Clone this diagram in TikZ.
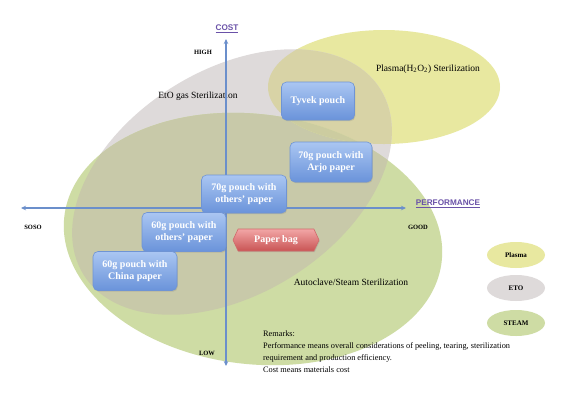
\documentclass[tikz,border=0pt]{standalone}
\usepackage{fontspec}
\setmainfont{Liberation Serif}
\newfontfamily\axisfont{Liberation Sans}
\usetikzlibrary{shapes.symbols,shapes.geometric,shadows,arrows.meta}
\definecolor{cYel}{HTML}{E8E8A0}
\definecolor{cGrey}{HTML}{DEDADA}
\definecolor{cGreen}{HTML}{CEDCA4}
\definecolor{cGG}{HTML}{C8C9A9}
\definecolor{cGY}{HTML}{D8D3A6}
\definecolor{cYG}{HTML}{D6E0A0}
\definecolor{cGGY}{HTML}{CCCCA0}
\definecolor{cAxis}{HTML}{6B8FCB}
\definecolor{cAxisTxt}{HTML}{6A52A8}
\definecolor{cBoxTop}{HTML}{AAC6F2}
\definecolor{cBoxBot}{HTML}{6A93DA}
\definecolor{cBoxLine}{HTML}{6F94D4}
\definecolor{cBagTop}{HTML}{F2A6A6}
\definecolor{cBagBot}{HTML}{C95454}
\definecolor{cBagLine}{HTML}{D06A6A}
\def\GreenPath{(253,239) ellipse [x radius=190pt, y radius=125pt]}
\def\GreyPath{(232,182) ellipse [x radius=175pt, y radius=112pt]}
\def\YelPath{(384,87) ellipse [x radius=116pt, y radius=57pt]}
\tikzset{
  greyrot/.style={rotate around={32:(232,182)}},
  greenrot/.style={rotate around={-7:(253,239)}},
  pbox/.style={draw=cBoxLine, line width=0.6pt, rounded corners=5pt,
    top color=cBoxTop, bottom color=cBoxBot, text=white,
    font=\bfseries\fontsize{10}{12}\selectfont, align=center,
    inner sep=2pt,
    drop shadow={opacity=0.25, shadow xshift=0.8pt, shadow yshift=-1.2pt}},
  bagbox/.style={signal, signal to=west and east, signal pointer angle=130,
    draw=cBagLine, line width=0.6pt, top color=cBagTop, bottom color=cBagBot,
    text=white, font=\bfseries\fontsize{10}{12}\selectfont,
    minimum width=86pt, minimum height=22pt, inner sep=1pt,
    drop shadow={opacity=0.25, shadow xshift=0.8pt, shadow yshift=-1.2pt}},
  axisline/.style={draw=cAxis, line width=1.3pt, {Stealth[length=5pt,width=4.5pt]}-{Stealth[length=5pt,width=4.5pt]}},
  axislbl/.style={text=cAxisTxt, font=\axisfont\bfseries\fontsize{8.2}{9}\selectfont, inner sep=0pt},
  endlbl/.style={font=\bfseries\fontsize{6.5}{8}\selectfont, inner sep=0pt},
  sterlbl/.style={font=\fontsize{9.5}{11}\selectfont, inner sep=0pt},
  legend/.style={ellipse, minimum width=58pt, minimum height=26pt, inner sep=0pt,
    font=\bfseries\fontsize{7}{8}\selectfont}
}
\begin{document}
\begin{tikzpicture}[x=1pt,y=-1pt]
\useasboundingbox (0,0) rectangle (566,400);
\fill[white] (0,0) rectangle (566,400);
% regions
\fill[cYel] \YelPath;
\fill[cGrey, greyrot] \GreyPath;
\fill[cGreen, greenrot] \GreenPath;
\begin{scope}
  \clip[greyrot] \GreyPath;
  \fill[cGG, greenrot] \GreenPath;
  \fill[cGY] \YelPath;
\end{scope}
\begin{scope}
  \clip[greenrot] \GreenPath;
  \fill[cYG] \YelPath;
\end{scope}
\begin{scope}
  \clip[greyrot] \GreyPath;
  \clip[greenrot] \GreenPath;
  \fill[cGGY] \YelPath;
\end{scope}
% region labels
\node[sterlbl] (leto) at (198,96) {EtO gas Sterilization};
\node[sterlbl] (lplasma) at (428,69) {Plasma(H\textsubscript{2}O\textsubscript{2}) Sterilization};
\node[sterlbl] (lsteam) at (351,282) {Autoclave/Steam Sterilization};
% axes
\coordinate (ctop) at (226,39);
\coordinate (cbot) at (226,366);
\coordinate (hleft) at (21,208);
\coordinate (hright) at (406,208);
\draw[axisline] (cbot) -- (ctop);
\draw[axisline] (hleft) -- (hright);
\node[axislbl] (lcost) at (227,29) {\underline{COST}};
\node[axislbl] (lperf) at (448,204) {\underline{PERFORMANCE}};
\node[endlbl] (lhigh) at (203,52) {HIGH};
\node[endlbl] (lgood) at (418,227) {GOOD};
\node[endlbl] (lsoso) at (33,227) {SOSO};
\node[endlbl] (llow) at (207,353) {LOW};
% boxes
\node[pbox, minimum width=73pt, minimum height=38pt] (tyvek) at (318,101) {Tyvek pouch};
\node[pbox, minimum width=82pt, minimum height=40pt] (arjo) at (331,162) {70g pouch with\\Arjo paper};
\node[pbox, minimum width=85pt, minimum height=38pt] (oth70) at (244,194) {70g pouch with\\others' paper};
\node[pbox, minimum width=84pt, minimum height=39pt] (oth60) at (184,232) {60g pouch with\\others' paper};
\node[pbox, minimum width=84pt, minimum height=39pt] (china60) at (135,271) {60g pouch with\\China paper};
\node[bagbox] (bag) at (276,240) {Paper bag};
% legend
\node[legend, fill=cYel] (legP) at (516,255) {Plasma};
\node[legend, fill=cGrey] (legE) at (516,288) {ETO};
\node[legend, fill=cGreen] (legS) at (516,323) {STEAM};
% remarks
\node[anchor=north west, inner sep=0pt, align=left, font=\fontsize{8.3}{11.7}\selectfont] (remarks) at (263,331)
  {Remarks:\\Performance means overall considerations of peeling, tearing, sterilization\\requirement and production efficiency.\\Cost means materials cost};
\end{tikzpicture}
\end{document}
